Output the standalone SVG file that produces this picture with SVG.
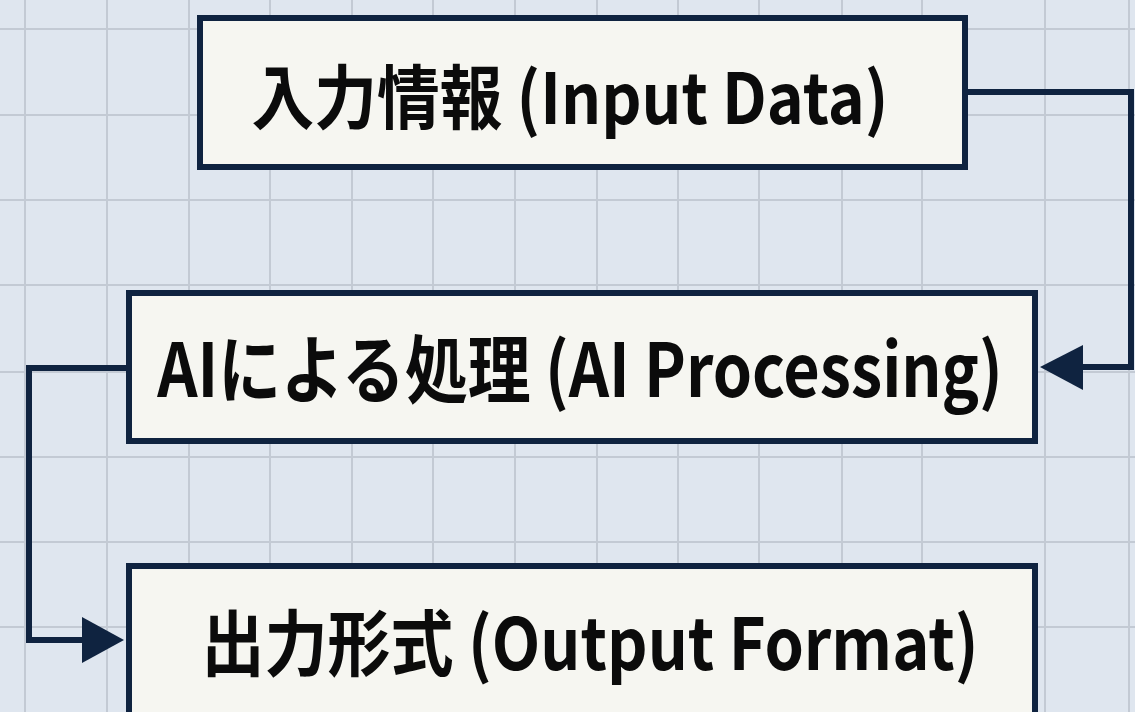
<svg xmlns="http://www.w3.org/2000/svg" width="1135" height="712" viewBox="0 0 1135 712">
<defs>
<style>
.grid line{stroke:#c3cad4;stroke-width:2}
.box{fill:#f6f6f1;stroke:#0f2340;stroke-width:6}
.lbl{font-family:"Noto Sans CJK JP","Noto Sans",sans-serif;font-weight:700;fill:#0b0b0b;text-anchor:middle}
.conn{fill:none;stroke:#0f2340;stroke-width:6}
.head{fill:#0f2340}
</style>
</defs>
<rect width="1135" height="712" fill="#dfe6ef"/>
<g class="grid">
<line x1="25" y1="0" x2="25" y2="712"/>
<line x1="107" y1="0" x2="107" y2="712"/>
<line x1="189" y1="0" x2="189" y2="712"/>
<line x1="270" y1="0" x2="270" y2="712"/>
<line x1="352" y1="0" x2="352" y2="712"/>
<line x1="433" y1="0" x2="433" y2="712"/>
<line x1="515" y1="0" x2="515" y2="712"/>
<line x1="597" y1="0" x2="597" y2="712"/>
<line x1="678" y1="0" x2="678" y2="712"/>
<line x1="759" y1="0" x2="759" y2="712"/>
<line x1="842" y1="0" x2="842" y2="712"/>
<line x1="922" y1="0" x2="922" y2="712"/>
<line x1="1045" y1="0" x2="1045" y2="712"/>
<line x1="1129" y1="0" x2="1129" y2="712"/>
<line x1="0" y1="29" x2="1135" y2="29"/>
<line x1="0" y1="115" x2="1135" y2="115"/>
<line x1="0" y1="200" x2="1135" y2="200"/>
<line x1="0" y1="285" x2="1135" y2="285"/>
<line x1="0" y1="372" x2="1135" y2="372"/>
<line x1="0" y1="457" x2="1135" y2="457"/>
<line x1="0" y1="542" x2="1135" y2="542"/>
<line x1="0" y1="627" x2="1135" y2="627"/>
</g>
<g id="connectors">
<path class="conn" d="M968,92 H1131 V367 H1075"/>
<path class="head" d="M1040,367 L1083,345 L1083,390 Z"/>
<path class="conn" d="M126,368 H29 V640 H90"/>
<path class="head" d="M124,640 L82,617 L82,663 Z"/>
</g>
<g id="node-input">
<rect class="box" x="200" y="18" width="765" height="149"/>
<text class="lbl" transform="translate(570,124) scale(0.896,1)" x="0" y="0" font-size="70">入力情報 (Input Data)</text>
</g>
<g id="node-ai">
<rect class="box" x="129" y="293" width="906" height="148"/>
<text class="lbl" transform="translate(580,397) scale(0.85,1)" x="0" y="0" font-size="74">AIによる処理 (AI Processing)</text>
</g>
<g id="node-output">
<rect class="box" x="129" y="566" width="906" height="160"/>
<text class="lbl" transform="translate(590,670) scale(0.876,1)" x="0" y="0" font-size="72">出力形式 (Output Format)</text>
</g>
</svg>
